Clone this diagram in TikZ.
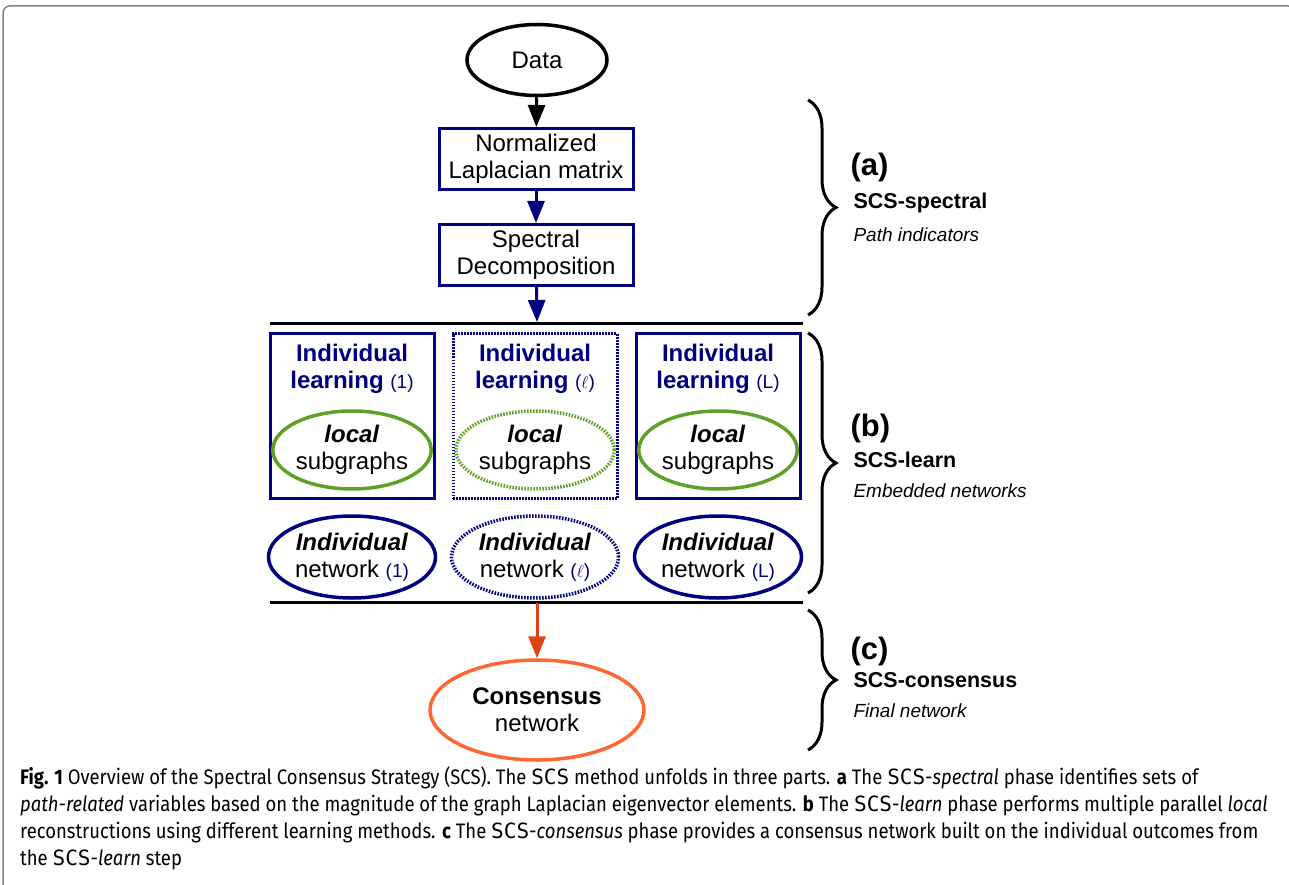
\documentclass[tikz,border=0pt]{standalone}
\usepackage{fontspec}
\setmainfont{Liberation Sans}
\newfontfamily\capfont[FakeStretch=0.88]{Fira Sans}
\newfontfamily\capmono{DejaVu Sans Mono}
\usetikzlibrary{shapes.geometric,arrows.meta,decorations.pathreplacing}
\definecolor{navy}{RGB}{0,0,128}
\definecolor{lgreen}{RGB}{96,160,40}
\definecolor{orng}{RGB}{255,102,51}
\definecolor{orarrow}{RGB}{221,68,17}
\definecolor{framegray}{RGB}{130,130,130}
\newcommand{\scsm}{{\capmono SCS}}
\begin{document}
\begin{tikzpicture}[x=1pt,y=-1pt,
  fbig/.style={font=\fontsize{24}{27}\selectfont},
  procbox/.style={draw=navy, line width=3pt, minimum width=194pt, minimum height=61pt, inner sep=0pt, align=center, fbig},
  ilbox/.style={draw=navy, line width=3pt, minimum width=164pt, minimum height=165pt, inner sep=0pt},
  dotline/.style={dash pattern=on 1.6pt off 1.4pt},
  subg/.style={ellipse, draw=lgreen, line width=3.5pt, minimum width=143pt, minimum height=78pt, inner sep=0pt, align=center, fbig},
  netw/.style={ellipse, draw=navy, line width=3.5pt, minimum width=167pt, minimum height=82pt, inner sep=0pt, align=center, fbig},
  ttl/.style={align=center, text=navy, font=\bfseries\fontsize{24}{27}\selectfont},
  sml/.style={font=\fontsize{19}{20}\selectfont},
  arr/.style={line width=3pt, -{Triangle[length=22pt,width=17pt]}},
  sepline/.style={line width=3pt},
  brc/.style={decorate, decoration={brace, amplitude=28pt, aspect=0.5}, line width=3pt},
  plab/.style={anchor=west, font=\bfseries\fontsize{31}{32}\selectfont},
  slab/.style={anchor=west, font=\bfseries\fontsize{21.5}{22}\selectfont},
  ilab/.style={anchor=west, font=\itshape\fontsize{19}{20}\selectfont},
  capl/.style={anchor=base west, inner sep=0pt, font=\capfont\fontsize{21}{22}\selectfont}
]
\useasboundingbox (0,0) rectangle (1289,885);
\fill[white] (0,0) rectangle (1289,885);
% frame
\draw[framegray, line width=1.5pt, rounded corners=7pt] (3,890) -- (3,6) -- (1295,6) -- (1295,890);

% top flow
\node[ellipse, draw, line width=3.5pt, minimum width=140pt, minimum height=71pt, inner sep=0pt, fbig] (data) at (537,60) {Data};
\node[procbox] (nlm) at (536,159) {Normalized\\Laplacian matrix};
\node[procbox] (sd) at (536,255) {Spectral\\Decomposition};
\coordinate (l1w) at (270,323);
\coordinate (l1e) at (803,323);
\coordinate (l1m) at (537,322);
\draw[arr] (data) -- (nlm);
\draw[arr, navy] (nlm) -- (sd);
\draw[arr, navy] (sd) -- (l1m);
\draw[sepline] (l1w) -- (l1e);

% learning boxes
\node[ilbox] (il1) at (352,416) {};
\node[ilbox, dotline] (ill) at (535,416) {};
\node[ilbox] (ilL) at (718,416) {};
\node[ttl] (t1) at (352,369) {Individual\\learning {\mdseries\fontsize{19}{20}\selectfont (1)}};
\node[ttl] (tl) at (535,369) {Individual\\learning {\mdseries\fontsize{19}{20}\selectfont ($\ell$)}};
\node[ttl] (tL) at (718,369) {Individual\\learning {\mdseries\fontsize{19}{20}\selectfont (L)}};
\node[subg] (s1) at (352,450) {\textbf{\textit{local}}\\subgraphs};
\node[subg, dotline] (sl) at (535,450) {\textbf{\textit{local}}\\subgraphs};
\node[subg] (sL) at (718,450) {\textbf{\textit{local}}\\subgraphs};

% networks
\node[netw] (n1) at (352,557) {\textbf{\textit{Individual}}\\network {\color{navy}\fontsize{19}{20}\selectfont (1)}};
\node[netw, dotline] (nl) at (535,557) {\textbf{\textit{Individual}}\\network {\color{navy}\fontsize{19}{20}\selectfont ($\ell$)}};
\node[netw] (nL) at (718,557) {\textbf{\textit{Individual}}\\network {\color{navy}\fontsize{19}{20}\selectfont (L)}};

\coordinate (l2w) at (270,602);
\coordinate (l2e) at (803,602);
\coordinate (l2m) at (537,603);
\draw[sepline] (l2w) -- (l2e);

\node[ellipse, draw=orng, line width=3.5pt, minimum width=214pt, minimum height=100pt, inner sep=0pt, align=center, fbig] (cons) at (537,710) {\textbf{Consensus}\\network};
\draw[arr, orarrow] (l2m) -- (cons);

% braces
\coordinate (ba1) at (808,100); \coordinate (ba2) at (808,315);
\coordinate (bb1) at (808,333); \coordinate (bb2) at (808,593);
\coordinate (bc1) at (808,610); \coordinate (bc2) at (808,750);
\draw[brc] (ba1) -- (ba2);
\draw[brc] (bb1) -- (bb2);
\draw[brc] (bc1) -- (bc2);

\node[plab] (pa) at (847,167) {(a)};
\node[slab] (sa) at (850,203) {SCS-spectral};
\node[ilab] (ia) at (850,235) {Path indicators};
\node[plab] (pb) at (847,428) {(b)};
\node[slab] (sb) at (850,460) {SCS-learn};
\node[ilab] (ib) at (850,491) {Embedded networks};
\node[plab] (pc) at (847,651) {(c)};
\node[slab] (sc) at (850,680) {SCS-consensus};
\node[ilab] (ic) at (850,711) {Final network};

% caption
\node[capl] (c1) at (20,784) {\textbf{Fig. 1} Overview of the Spectral Consensus Strategy (SCS). The \scsm{} method unfolds in three parts. \textbf{a} The \scsm-\textit{spectral} phase identifies sets of};
\node[capl] (c2) at (20,811) {\textit{path-related} variables based on the magnitude of the graph Laplacian eigenvector elements. \textbf{b} The \scsm-\textit{learn} phase performs multiple parallel \textit{local}};
\node[capl] (c3) at (20,838) {reconstructions using different learning methods. \textbf{c} The \scsm-\textit{consensus} phase provides a consensus network built on the individual outcomes from};
\node[capl] (c4) at (20,865) {the \scsm-\textit{learn} step};
\end{tikzpicture}
\end{document}
